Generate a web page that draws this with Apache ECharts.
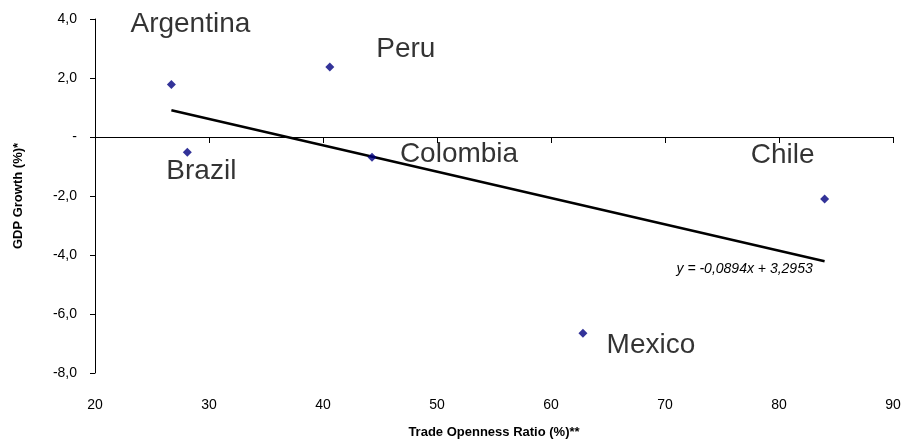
<!DOCTYPE html>
<html>
<head>
<meta charset="utf-8">
<script src="https://cdn.jsdelivr.net/npm/echarts@6/dist/echarts.min.js"></script>
<style>
html,body{margin:0;padding:0;background:#fff;}
#chart{width:907px;height:444px;}
</style>
</head>
<body>
<div id="chart"></div>
<script>
// ---- data ----
const countries = ["Argentina", "Brazil", "Peru", "Colombia", "Chile", "Mexico"];
const tradeOpenness = [26.7, 28.1, 40.6, 44.3, 84.0, 62.8];
const gdpGrowth = [1.78, -0.52, 2.37, -0.69, -2.10, -6.65];
const trendSlope = -0.0894;
const trendIntercept = 3.2953;
const equationText = "y = -0,0894x + 3,2953";
const xTicks = [20, 30, 40, 50, 60, 70, 80, 90];
const yTicks = [-8, -6, -4, -2, 0, 2, 4];

// ---- label placement (style) ----
const labelOffsets = {
  "Argentina": [19, -60],
  "Brazil": [14, 19],
  "Peru": [76, -18],
  "Colombia": [87, -3],
  "Chile": [-42, -44],
  "Mexico": [68, 12]
};
const symbolSize = 9;

const font = 'Liberation Sans, Arial, sans-serif';

const scatterData = countries.map((c, i) => ({
  name: c,
  value: [tradeOpenness[i], gdpGrowth[i]],
  label: {
    position: [symbolSize / 2 + labelOffsets[c][0], symbolSize / 2 + labelOffsets[c][1]],
    color: '#000'
  }
}));

const xMinData = Math.min(...tradeOpenness);
const xMaxData = Math.max(...tradeOpenness);
const trendData = [
  { value: [xMinData, trendSlope * xMinData + trendIntercept], label: { show: false } },
  { value: [xMaxData, trendSlope * xMaxData + trendIntercept],
    label: { show: true, formatter: equationText, position: 'inside', offset: [-80, 8],
             fontStyle: 'italic', fontSize: 14, color: '#000', fontFamily: font } }
];

const chart = echarts.init(document.getElementById('chart'), null, { renderer: 'canvas' });
chart.setOption({
  animation: false,
  backgroundColor: '#fff',
  grid: { left: 95, right: 14, top: 19, bottom: 70, containLabel: false },
  xAxis: [
    {
      type: 'value', min: xTicks[0], max: xTicks[xTicks.length - 1], interval: 10,
      axisLine: { show: true, onZero: true, lineStyle: { color: '#000', width: 1 } },
      axisTick: { show: true, length: 6, lineStyle: { color: '#000' } },
      axisLabel: { show: false },
      splitLine: { show: false }
    },
    {
      type: 'value', min: xTicks[0], max: xTicks[xTicks.length - 1], interval: 10,
      position: 'bottom',
      axisLine: { show: false, onZero: false },
      axisTick: { show: false },
      axisLabel: { show: true, margin: 25, fontSize: 14, color: '#000', fontFamily: font },
      splitLine: { show: false },
      name: 'Trade Openness Ratio (%)**',
      nameLocation: 'middle', nameGap: 53,
      nameTextStyle: { fontSize: 13, fontWeight: 'bold', color: '#000', fontFamily: font }
    }
  ],
  yAxis: {
    type: 'value', min: yTicks[0], max: yTicks[yTicks.length - 1], interval: 2,
    axisLine: { show: true, lineStyle: { color: '#000', width: 1 } },
    axisTick: { show: true, length: 5, lineStyle: { color: '#000' } },
    axisLabel: {
      margin: 18, fontSize: 14, color: '#000', fontFamily: font,
      formatter: v => v === 0 ? '-' : v.toFixed(1).replace('.', ',')
    },
    splitLine: { show: false },
    name: 'GDP Growth (%)*',
    nameLocation: 'middle', nameGap: 70, nameRotate: 90,
    nameTextStyle: { fontSize: 13, fontWeight: 'bold', color: '#000', fontFamily: font }
  },
  series: [
    {
      type: 'line',
      xAxisIndex: 0,
      data: trendData,
      symbol: 'circle',
      symbolSize: 0,
      showSymbol: true,
      showAllSymbol: true,
      lineStyle: { color: '#000', width: 2.5 },
      itemStyle: { color: '#000' },
      label: { show: false },
      z: 2
    },
    {
      type: 'scatter',
      xAxisIndex: 0,
      data: scatterData,
      symbol: 'diamond',
      symbolSize: symbolSize,
      itemStyle: { color: '#000080' },
      label: {
        show: true, formatter: '{b}',
        fontSize: 28, color: '#000', fontFamily: font,
        align: 'center', verticalAlign: 'middle'
      },
      z: 3
    }
  ]
});
</script>
</body>
</html>
